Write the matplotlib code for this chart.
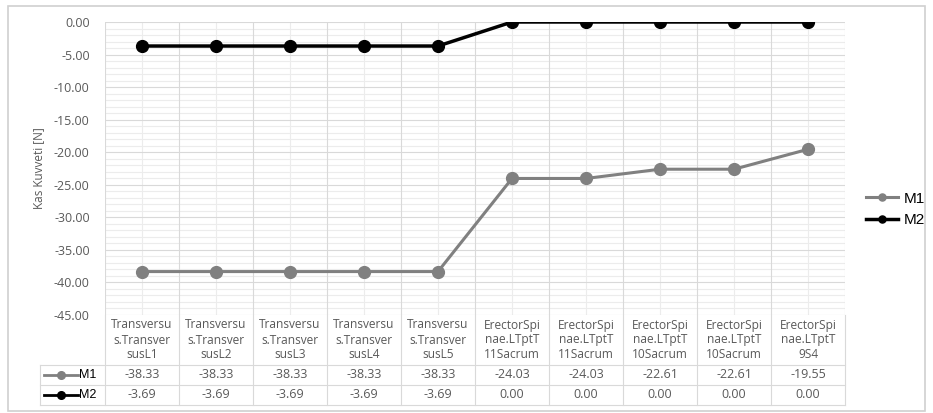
import matplotlib.pyplot as plt
from matplotlib.lines import Line2D
from matplotlib.patches import Rectangle
import numpy as np

# Datos
kategoriler = ["Transversu\ns.Transver\nsusL1", "Transversu\ns.Transver\nsusL2",
               "Transversu\ns.Transver\nsusL3", "Transversu\ns.Transver\nsusL4",
               "Transversu\ns.Transver\nsusL5", "ErectorSpi\nnae.LTptT\n11Sacrum",
               "ErectorSpi\nnae.LTptT\n11Sacrum", "ErectorSpi\nnae.LTptT\n10Sacrum",
               "ErectorSpi\nnae.LTptT\n10Sacrum", "ErectorSpi\nnae.LTptT\n9S4"]
m1 = [-38.33, -38.33, -38.33, -38.33, -38.33, -24.03, -24.03, -22.61, -22.61, -19.55]
m2 = [-3.69, -3.69, -3.69, -3.69, -3.69, 0.00, 0.00, 0.00, 0.00, 0.00]
y_ticks = [0, -5, -10, -15, -20, -25, -30, -35, -40, -45]

W, H = 933, 413
fig = plt.figure(figsize=(W / 100, H / 100), dpi=100)

def px(x0, y0, x1, y1):
    # pixel box -> figure fraction
    return [x0 / W, 1 - y1 / H, (x1 - x0) / W, (y1 - y0) / H]

tick_color = "#595959"
grid_major = "#d9d9d9"
grid_minor = "#ececec"
font_body = "Open Sans"
c1, c2 = "#808080", "#000000"

n = len(kategoriler)
x = np.arange(n)

# outer chart frame
fig.patches.append(Rectangle((8 / W, 1 - 411 / H), 917 / W, 405 / H, transform=fig.transFigure,
                             fill=False, edgecolor="#d0d0d0", linewidth=1.2))

ax = fig.add_axes(px(105, 22, 845, 315))
ax.set_xlim(-0.5, n - 0.5)
ax.set_ylim(-45, 0)
for s in ax.spines.values():
    s.set_visible(False)

# minor grid
for v in np.arange(-45, 0, 1):
    if v % 5:
        ax.axhline(v, color=grid_minor, lw=0.8, zorder=0)
for c in x:
    ax.axvline(c, color=grid_minor, lw=0.8, zorder=0)
# major grid
for v in y_ticks:
    ax.axhline(v, color=grid_major, lw=0.8, zorder=0.5)
for b in np.arange(-0.5, n, 1):
    ax.axvline(b, color=grid_major, lw=0.8, zorder=0.5)

l1, = ax.plot(x, m1, color=c1, lw=2.2, marker="o", ms=8.5, zorder=3)
l2, = ax.plot(x, m2, color=c2, lw=2.5, marker="o", ms=8.5, zorder=3)

ax.set_xticks([])
ax.set_yticks(y_ticks)
ax.set_yticklabels(["%.2f" % v for v in y_ticks], fontsize=9, color=tick_color,
                   family=font_body)
ax.tick_params(axis="y", length=0, pad=11)
ax.set_ylabel("Kas Kuvveti [N]", fontsize=8.5, color=tick_color, family=font_body, labelpad=6)

# data table below the axis
tab = fig.add_axes(px(105, 315, 845, 405))
tab.set_xlim(-0.5, n - 0.5)
tab.set_ylim(90, 0)
tab.axis("off")
u = 74.0  # pixels per category
left_x = -0.5 - (105 - 40) / u
for yy in [50, 70, 90]:
    tab.plot([left_x, n - 0.5], [yy, yy], color=grid_major, lw=0.8, clip_on=False)
for b in np.arange(-0.5, n, 1):
    tab.plot([b, b], [0, 90], color=grid_major, lw=0.8, clip_on=False)
tab.plot([left_x, left_x], [50, 90], color=grid_major, lw=0.8, clip_on=False)

for i, lab in enumerate(kategoriler):
    tab.text(i, 25, lab, ha="center", va="center", fontsize=8.6, color=tick_color,
             family=font_body, linespacing=1.2)
    tab.text(i, 60, "%.2f" % m1[i], ha="center", va="center", fontsize=9,
             color=tick_color, family=font_body)
    tab.text(i, 80, "%.2f" % m2[i], ha="center", va="center", fontsize=9,
             color=tick_color, family=font_body)

# series keys in table
for yy, col, name in [(60, c1, "M1"), (80, c2, "M2")]:
    tab.add_line(Line2D([left_x + 4 / u, left_x + 38 / u], [yy, yy], color=col, lw=2,
                        clip_on=False))
    tab.plot([left_x + 21 / u], [yy], marker="o", ms=5.5, color=col, clip_on=False)
    tab.text(left_x + 39 / u, yy, name, ha="left", va="center", fontsize=9,
             color="#000000", family="Liberation Sans")

# legend on the right
fig.legend([l1, l2], ["M1", "M2"], loc="center left",
           bbox_to_anchor=(866 / W, 1 - 209.5 / H), borderaxespad=0, borderpad=0,
           frameon=False, prop={"family": "Liberation Sans", "size": 11}, handlelength=2.1,
           handletextpad=0.4, labelspacing=0.5, markerscale=0.6)

fig.savefig("out.png", dpi=100)
